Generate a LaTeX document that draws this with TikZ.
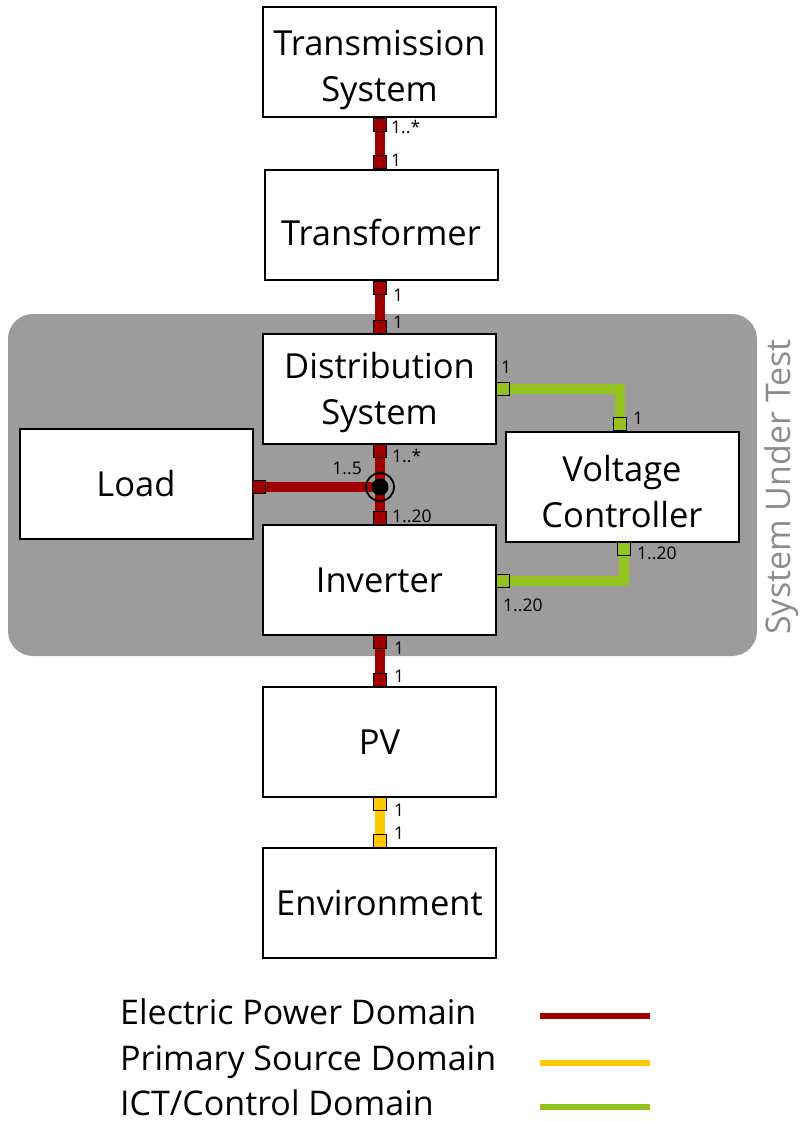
\documentclass[tikz,border=0pt]{standalone}
\usepackage{fontspec}
\setmainfont{Open Sans}
\pgfdeclarelayer{bg}
\pgfdeclarelayer{wires}
\pgfsetlayers{bg,wires,main}
\definecolor{epd}{RGB}{160,0,0}
\definecolor{psd}{RGB}{255,200,0}
\definecolor{ictd}{RGB}{149,193,31}
\definecolor{sutgray}{RGB}{156,156,156}
\definecolor{sutlabel}{RGB}{140,140,140}
\newcommand{\dnshift}[2]{\raisebox{-#1pt}[\height][\depth]{#2}}
\tikzset{
  block/.style={draw=black, line width=2pt, fill=white, minimum width=233pt,
    minimum height=110pt, align=center, inner sep=0pt,
    font=\fontsize{34.5}{46}\selectfont},
  port/.style={draw=black, line width=1.6pt, minimum size=13pt, inner sep=0pt},
  redport/.style={port, fill=epd},
  yelport/.style={port, fill=psd},
  grnport/.style={port, fill=ictd},
  wire/.style={line width=10pt},
  mult/.style={font=\fontsize{17.5}{17.5}\selectfont, inner sep=0pt},
  legtext/.style={font=\fontsize{34}{34}\selectfont, anchor=base west, inner sep=0pt},
  legline/.style={line width=6pt},
}
\begin{document}
\begin{tikzpicture}[x=1pt,y=-1pt]
\useasboundingbox (0,0) rectangle (802,1121);
% system under test
\begin{pgfonlayer}{bg}
\fill[sutgray, rounded corners=25pt] (8,314) rectangle (757,656);
\end{pgfonlayer}
\node[rotate=90, text=sutlabel, font=\fontsize{34}{34}\selectfont, inner sep=0pt] (sut) at (782,487) {System Under Test};
% blocks
\node[block] (ts) at (379.5,62) {\dnshift{8}{Transmission}\\\dnshift{8}{System}};
\node[block] (tf) at (381,225) {\dnshift{7}{Transformer}};
\node[block] (ds) at (379.5,389) {\dnshift{4}{Distribution}\\\dnshift{4}{System}};
\node[block] (ld) at (136,483.5) {Load};
\node[block] (inv) at (379.5,580) {Inverter};
\node[block] (vc) at (622,486.5) {\dnshift{5}{Voltage}\\\dnshift{5}{Controller}};
\node[block] (pv) at (379.5,742) {PV};
\node[block] (env) at (379.5,903) {Environment};
% ports
\node[redport] (p1) at (380,125) {};
\node[redport] (p2) at (380,162) {};
\node[redport] (p3) at (380,288) {};
\node[redport] (p4) at (380,327) {};
\node[redport] (p5) at (380,451) {};
\node[redport] (p6) at (380,518) {};
\node[redport] (p7) at (259,487) {};
\node[grnport] (g1) at (503,389) {};
\node[grnport] (g2) at (620,424) {};
\node[grnport] (g3) at (624,549) {};
\node[grnport] (g4) at (503,581) {};
\node[redport] (p8) at (380,642) {};
\node[redport] (p9) at (380,680) {};
\node[yelport] (y1) at (380,804) {};
\node[yelport] (y2) at (380,841) {};
% junction
\node[circle, draw=black, line width=1.8pt, minimum size=28pt, inner sep=0pt] (j) at (380,487) {};
\node[circle, fill=black, minimum size=17pt, inner sep=0pt] (jd) at (j) {};
% wires
\begin{pgfonlayer}{wires}
\draw[wire, epd] (p1.center) -- (p2.center);
\draw[wire, epd] (p3.center) -- (p4.center);
\draw[wire, epd] (p5.center) -- (p6.center);
\draw[wire, epd] (p7.center) -- (j.center);
\draw[wire, epd] (p8.center) -- (p9.center);
\draw[wire, psd] (y1.center) -- (y2.center);
\draw[wire, ictd] (g1.center) -| (g2.center);
\draw[wire, ictd] (g4.center) -| (g3.center);
\end{pgfonlayer}
% multiplicities
\node[mult, anchor=west] (m1) at (391,127) {1..*};
\node[mult, anchor=west] (m2) at (391,160) {1};
\node[mult, anchor=west] (m3) at (393,295) {1};
\node[mult, anchor=west] (m4) at (393,322) {1};
\node[mult, anchor=west] (m5) at (392,456) {1..*};
\node[mult, anchor=west] (m6) at (392,516) {1..20};
\node[mult, anchor=east] (m7) at (362,468) {1..5};
\node[mult] (m8) at (506,367) {1};
\node[mult, anchor=west] (m9) at (633,418) {1};
\node[mult, anchor=west] (m10) at (637,553) {1..20};
\node[mult, anchor=west] (m11) at (503,605) {1..20};
\node[mult, anchor=west] (m12) at (394,648) {1};
\node[mult, anchor=west] (m13) at (394,676) {1};
\node[mult, anchor=west] (m14) at (394,810) {1};
\node[mult, anchor=west] (m15) at (394,833) {1};
% legend
\node[legtext] (l1) at (120,1024) {Electric Power Domain};
\node[legtext] (l2) at (120,1070) {Primary Source Domain};
\node[legtext] (l3) at (120,1115) {ICT/Control Domain};
\draw[legline, epd] (540,1016) -- (650,1016);
\draw[legline, psd] (540,1063) -- (650,1063);
\draw[legline, ictd] (540,1107) -- (650,1107);
\end{tikzpicture}
\end{document}
